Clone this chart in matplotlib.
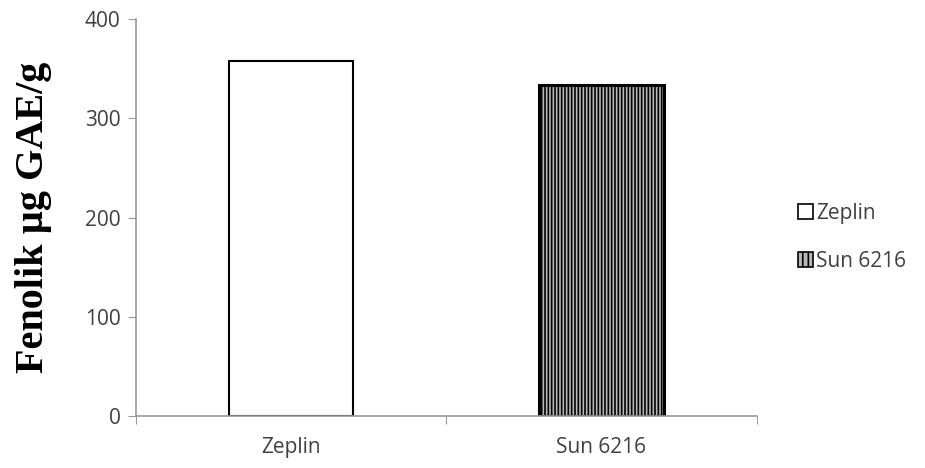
import matplotlib.pyplot as plt
import matplotlib.patches as mpatches

categories = ["Zeplin", "Sun 6216"]
values = [358, 334]

plt.rcParams['font.family'] = ['Open Sans', 'DejaVu Sans']
plt.rcParams['hatch.linewidth'] = 1.2
plt.rcParams['hatch.color'] = '#222222'

fig = plt.figure(figsize=(9.25, 4.68), dpi=100)
ax = fig.add_axes([0.147, 0.111, 0.671, 0.848])

x = range(len(categories))
bars = ax.bar(x, values, width=0.4, edgecolor='black', linewidth=1.5)
bars[0].set_facecolor('white')
bars[1].set_facecolor('#b8b8b8')
bars[1].set_hatch('|||||')
bars[1].set_linewidth(2.2)

ax.set_xlim(-0.5, 1.5)
ax.set_ylim(0, 400)
ax.set_yticks([0, 100, 200, 300, 400])
ax.set_xticks([-0.5, 0.5, 1.5])
ax.set_xticklabels([])
ax.set_xticks([0, 1], minor=True)
ax.set_xticklabels(categories, minor=True)
ax.tick_params(axis='x', which='minor', length=0, pad=15, labelsize=15, labelcolor='#404040')
ax.tick_params(axis='x', which='major', length=6, color='#999999', direction='out')
ax.tick_params(axis='y', length=6, color='#999999', labelsize=15, labelcolor='#404040', pad=5)

for s in ['top', 'right']:
    ax.spines[s].set_visible(False)
for s in ['left', 'bottom']:
    ax.spines[s].set_color('#999999')
    ax.spines[s].set_linewidth(1.2)

ax.set_ylabel("Fenolik µg GAE/g", family='Liberation Serif', fontweight='bold',
              fontsize=29, color='black', labelpad=24)

h1 = mpatches.Patch(facecolor='white', edgecolor='black', linewidth=1.2, label='Zeplin')
h2 = mpatches.Patch(facecolor='#b8b8b8', edgecolor='black', hatch='|||', linewidth=1.2, label='Sun 6216')
leg = ax.legend(handles=[h1, h2], loc='center left', bbox_to_anchor=(1.0, 0.45),
                frameon=False, fontsize=15, handlelength=0.7, handleheight=0.7,
                handletextpad=0.15, labelspacing=1.3, borderaxespad=1.6)
for t in leg.get_texts():
    t.set_color('#404040')

fig.savefig('out.png', dpi=100)
